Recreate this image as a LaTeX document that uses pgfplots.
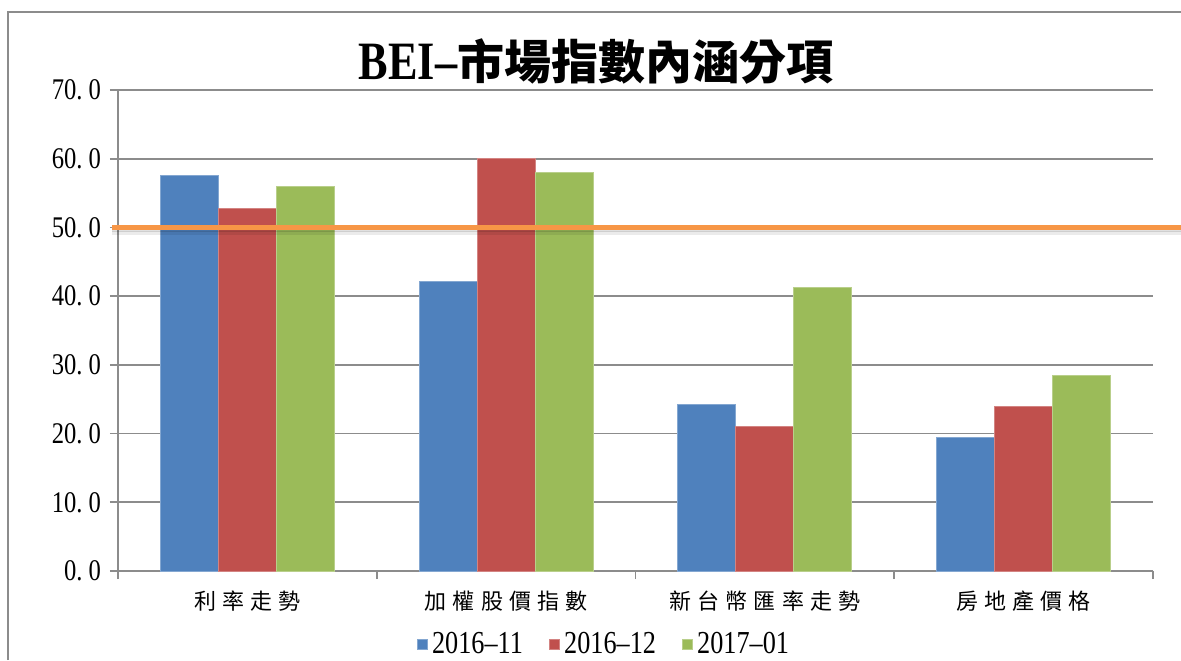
\documentclass[border=0pt]{standalone}
\usepackage{fontspec}
\setmainfont{Liberation Serif}
\newfontfamily\cjk{Noto Sans CJK TC}
\newfontfamily\cjkls[LetterSpace=28]{Noto Sans CJK TC}
\newfontfamily\cond[FakeStretch=0.82]{Liberation Serif}
\usepackage{pgfplots}
\pgfplotsset{compat=1.18}
\definecolor{cblue}{HTML}{4F81BD}
\definecolor{cred}{HTML}{C0504D}
\definecolor{cgreen}{HTML}{9BBB59}
\definecolor{corange}{HTML}{F79646}
\definecolor{gridgray}{HTML}{8C8C8C}
\newcommand{\yl}[2]{#1.\kern3pt#2}
\begin{document}
\begin{tikzpicture}
\useasboundingbox (0,0) rectangle (590.5pt,330pt);
\draw[gridgray, line width=0.8pt] (4pt,0) -- (4pt,324pt) -- (590.5pt,324pt);
\node[font=\fontsize{23.5}{28}\selectfont] at (298pt,299pt) {{\cond\bfseries\fontsize{27}{30}\selectfont BEI–}{\cjk\bfseries 市場指數內涵分項}};
\begin{axis}[
  at={(59pt,44.5pt)}, anchor=south west,
  scale only axis, width=517.5pt, height=240.5pt,
  xmin=0, xmax=4, ymin=0, ymax=70,
  clip=false,
  axis x line*=bottom, axis y line*=left,
  axis line style={-, gridgray, line width=0.8pt},
  ytick={0,10,...,70},
  yticklabels={\yl{0}{0},\yl{10}{0},\yl{20}{0},\yl{30}{0},\yl{40}{0},\yl{50}{0},\yl{60}{0},\yl{70}{0}},
  yticklabel style={font=\cond\fontsize{15}{17}\selectfont, xshift=-1pt},
  xtick={0,1,2,3,4}, xticklabels={},
  tick align=outside, major tick length=4pt,
  tick style={gridgray, line width=0.8pt},
  ymajorgrids, grid style={gridgray, line width=0.8pt},
  extra x ticks={0.5,1.5,2.5,3.5},
  extra x tick labels={利率走勢,加權股價指數,新台幣匯率走勢,房地產價格},
  extra x tick style={major tick length=0pt, xticklabel style={font=\cjkls\fontsize{11}{13}\selectfont, yshift=-6.5pt}},
  ybar=0pt, bar width=29pt,
  legend columns=3,
  legend style={at={(0.4705,-0.152)}, anchor=center, draw=none, font=\cond\fontsize{16}{18}\selectfont,
     /tikz/every even column/.append style={column sep=11pt}},
  legend image code/.code={\fill[#1] (0pt,-2.6pt) rectangle (5.2pt,2.6pt);},
]
\addplot[fill=cblue, draw=cblue!70!white, line width=0.4pt] coordinates {(0.5,57.6) (1.5,42.2) (2.5,24.3) (3.5,19.5)};
\addplot[fill=cred, draw=cred!70!white, line width=0.4pt] coordinates {(0.5,52.8) (1.5,60.0) (2.5,21.0) (3.5,24.0)};
\addplot[fill=cgreen, draw=cgreen!70!white, line width=0.4pt] coordinates {(0.5,55.9) (1.5,58.0) (2.5,41.3) (3.5,28.5)};
\legend{2016–11,2016–12,2017–01}
\addplot[sharp plot, draw=black, opacity=0.08, line width=2pt, forget plot] coordinates {(-0.023,49.25) (4.108,49.25)};
\addplot[sharp plot, draw=black, opacity=0.12, line width=1.2pt, forget plot] coordinates {(-0.023,49.5) (4.108,49.5)};
\addplot[sharp plot, draw=corange, line width=2.5pt, forget plot] coordinates {(-0.023,50) (4.108,50)};
\end{axis}
\end{tikzpicture}
\end{document}
